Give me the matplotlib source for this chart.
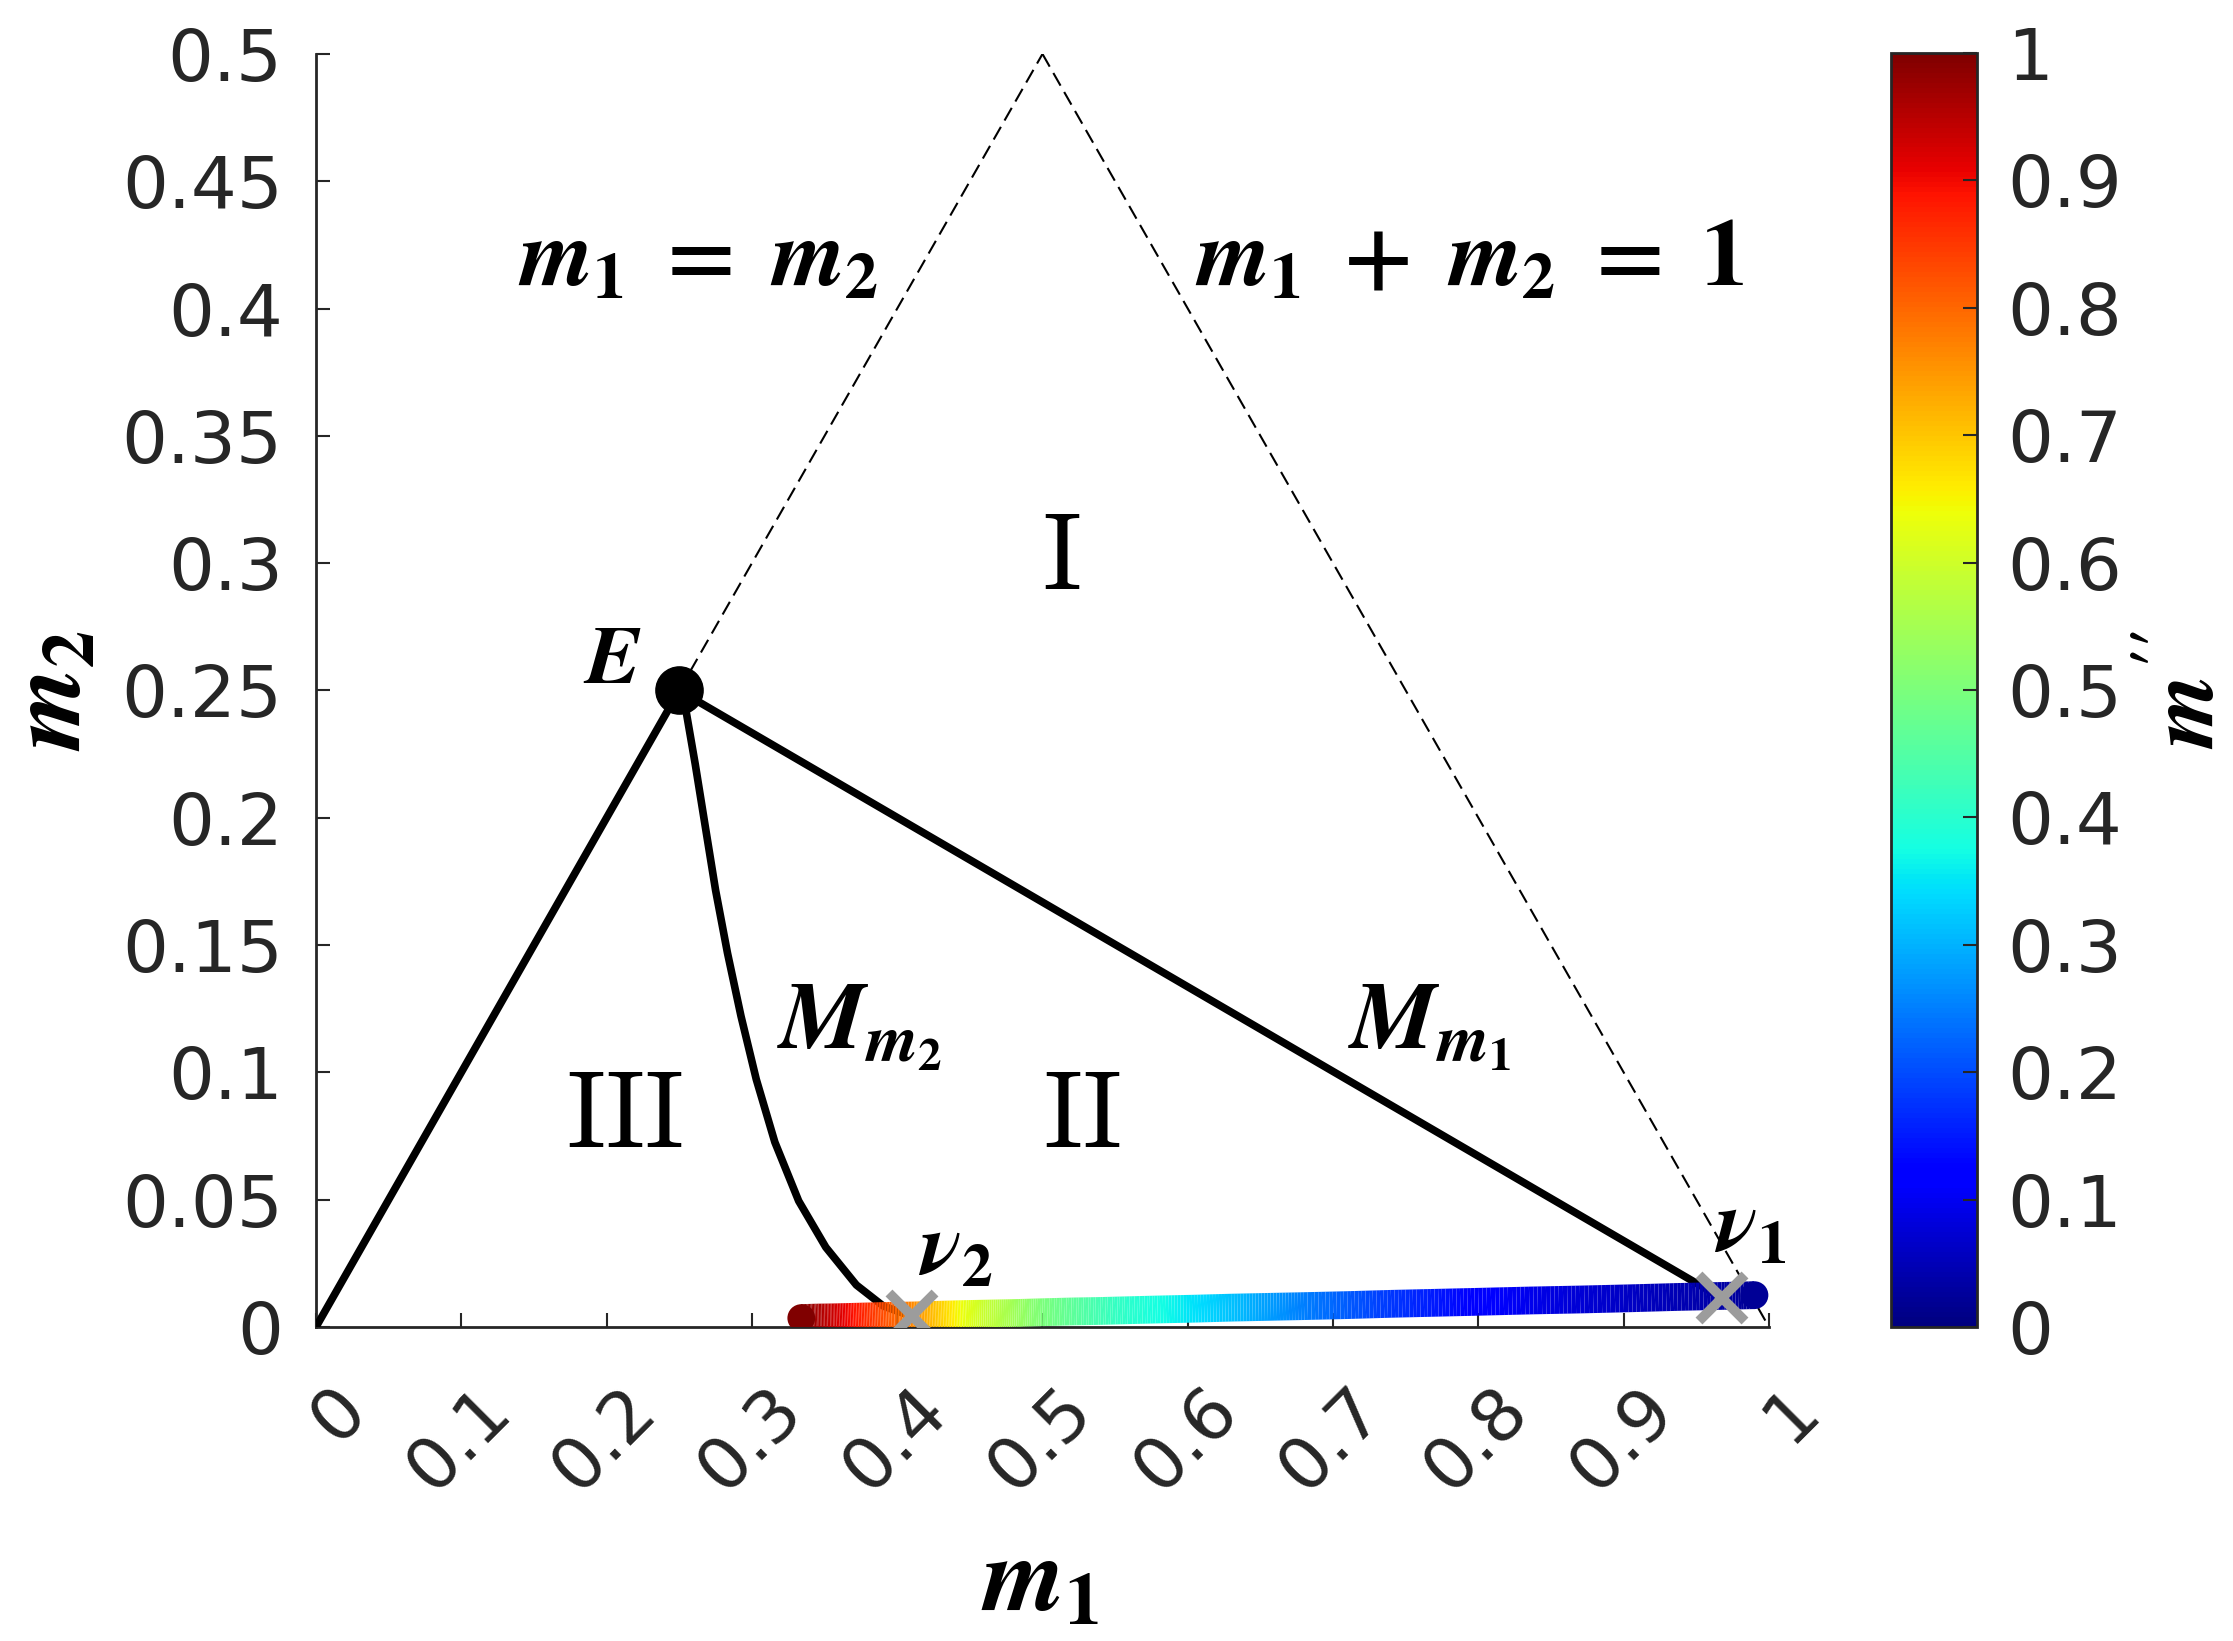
import numpy as np
import matplotlib
matplotlib.use("Agg")
import matplotlib.pyplot as plt
from matplotlib.collections import LineCollection
from matplotlib import cm, colors
from matplotlib.transforms import ScaledTranslation

# ---------------- data ----------------
E_pt = (0.25, 0.25)
nu1 = (0.9675, 0.0114)
nu2 = (0.410, 0.0042)
apex = (0.5, 0.5)
origin = (0.0, 0.0)
corner = (1.0, 0.0)

# curve M_m2 (from E down to nu2)
mm2_m1 = [0.250, 0.2540, 0.2610, 0.2680, 0.2750, 0.2832, 0.2925, 0.3030, 0.3158, 0.3322,
          0.3509, 0.3719, 0.3905, 0.410]
mm2_m2 = [0.250, 0.2442, 0.2211, 0.1963, 0.1716, 0.1469, 0.1221, 0.0973, 0.0726, 0.0495,
          0.0313, 0.0165, 0.0082, 0.0042]

# coloured branch along the bottom (m'' colour-coded)
br_m1 = [0.334, 0.345, 0.357, 0.370, 0.383, 0.396, 0.409, 0.422, 0.435, 0.448, 0.465, 0.482,
         0.500, 0.520, 0.540, 0.560, 0.581, 0.605, 0.630, 0.655, 0.680, 0.710, 0.740, 0.770,
         0.800, 0.835, 0.870, 0.906, 0.937, 0.9675, 0.990]
br_m2 = [0.0035, 0.0037, 0.0038, 0.0040, 0.0042, 0.0044, 0.0045, 0.0047, 0.0049, 0.0051, 0.0053, 0.0055,
         0.0058, 0.0061, 0.0063, 0.0066, 0.0069, 0.0072, 0.0076, 0.0079, 0.0082, 0.0086, 0.0091, 0.0095,
         0.0099, 0.0104, 0.0108, 0.0113, 0.0118, 0.0122, 0.0125]
br_mpp = [1.000, 0.965, 0.930, 0.890, 0.850, 0.810, 0.770, 0.720, 0.670, 0.625, 0.580, 0.540,
          0.500, 0.465, 0.430, 0.400, 0.375, 0.345, 0.315, 0.280, 0.250, 0.215, 0.180, 0.150,
          0.120, 0.095, 0.075, 0.060, 0.047, 0.035, 0.020]

xticks = [0, 0.1, 0.2, 0.3, 0.4, 0.5, 0.6, 0.7, 0.8, 0.9, 1.0]
xticklabels = ['0', '0.1', '0.2', '0.3', '0.4', '0.5', '0.6', '0.7', '0.8', '0.9', '1']
yticks = [0, 0.05, 0.1, 0.15, 0.2, 0.25, 0.3, 0.35, 0.4, 0.45, 0.5]
yticklabels = ['0', '0.05', '0.1', '0.15', '0.2', '0.25', '0.3', '0.35', '0.4', '0.45', '0.5']
cticks = [0, 0.1, 0.2, 0.3, 0.4, 0.5, 0.6, 0.7, 0.8, 0.9, 1.0]
cticklabels = ['0', '0.1', '0.2', '0.3', '0.4', '0.5', '0.6', '0.7', '0.8', '0.9', '1']

# ---------------- figure ----------------
plt.rcParams['font.family'] = ['DejaVu Sans']
plt.rcParams['mathtext.fontset'] = 'custom'
plt.rcParams['mathtext.it'] = 'STIXGeneral:italic:bold'
plt.rcParams['mathtext.rm'] = 'STIXGeneral:bold'
plt.rcParams['mathtext.bf'] = 'STIXGeneral:bold'
plt.rcParams['mathtext.sf'] = 'STIXGeneral:bold'
TICKFS = 52
AXC = '#262626'

fig = plt.figure(figsize=(22.33, 16.41), dpi=100)
ax = fig.add_axes([0.14151, 0.19135, 0.65069, 0.77575])
cax = fig.add_axes([0.84684, 0.19135, 0.0385, 0.7764])

ax.set_xlim(0, 1)
ax.set_ylim(0, 0.5)

# dashed boundaries
ax.plot([E_pt[0], apex[0]], [E_pt[1], apex[1]], color='black', lw=1.5, ls=(0, (7, 3.5)), zorder=2)
ax.plot([apex[0], corner[0]], [apex[1], corner[1]], color='black', lw=1.5, ls=(0, (7, 3.5)), zorder=2)

# solid black lines
LW = 5.5
ax.plot([origin[0], E_pt[0]], [origin[1], E_pt[1]], color='black', lw=LW, zorder=3, solid_capstyle='round')
ax.plot([E_pt[0], nu1[0]], [E_pt[1], nu1[1]], color='black', lw=LW, zorder=3, solid_capstyle='round')
ax.plot(mm2_m1, mm2_m2, color='black', lw=LW, zorder=3, solid_capstyle='round', solid_joinstyle='round')

# coloured branch: each segment between read points is shaded linearly (gouraud-like)
norm = colors.Normalize(0, 1)
x_arr, y_arr, v_arr = np.array(br_m1), np.array(br_m2), np.array(br_mpp)
t = np.linspace(0, 1, 13)
segs, vals = [], []
for i in range(len(x_arr) - 1):
    xs = x_arr[i] + t * (x_arr[i + 1] - x_arr[i])
    ys = y_arr[i] + t * (y_arr[i + 1] - y_arr[i])
    vs = v_arr[i] + t * (v_arr[i + 1] - v_arr[i])
    for j in range(len(t) - 1):
        segs.append([(xs[j], ys[j]), (xs[j + 1], ys[j + 1])])
        vals.append(0.5 * (vs[j] + vs[j + 1]))
BW = 20
lc = LineCollection(segs, cmap='jet', norm=norm, linewidths=BW, capstyle='butt', zorder=4)
lc.set_array(np.array(vals))
ax.add_collection(lc)
ax.scatter([br_m1[0], br_m1[-1]], [br_m2[0], br_m2[-1]], s=BW ** 2, c=[br_mpp[0], br_mpp[-1]],
           cmap='jet', norm=norm, marker='o', linewidths=0, zorder=4)

# markers
ax.plot([E_pt[0]], [E_pt[1]], 'o', color='black', ms=34, zorder=5)
ax.plot([nu1[0], nu2[0]], [nu1[1], nu2[1]], 'x', color='#9c9c9c', ms=33, mew=7, zorder=6)

# annotations
ax.text(0.204, 0.262, r'$E$', fontsize=60, ha='center', va='center')
ax.text(0.374, 0.118, r'$M_{m_2}$', fontsize=69, ha='center', va='center')
ax.text(0.766, 0.118, r'$M_{m_1}$', fontsize=69, ha='center', va='center')
ax.text(0.440, 0.030, r'$\nu_2$', fontsize=63, ha='center', va='center')
ax.text(0.987, 0.039, r'$\nu_1$', fontsize=63, ha='center', va='center')
ax.text(0.263, 0.419, r'$m_1\;=\;m_2$', fontsize=68, ha='center', va='center')
ax.text(0.794, 0.419, r'$m_1\;+\;m_2\;=\;1$', fontsize=68, ha='center', va='center')
ax.text(0.513, 0.302, r'$\mathrm{I}$', fontsize=78, ha='center', va='center', math_fontfamily='cm')
ax.text(0.527, 0.083, r'$\mathrm{II}$', fontsize=78, ha='center', va='center', math_fontfamily='cm')
ax.text(0.212, 0.083, r'$\mathrm{III}$', fontsize=78, ha='center', va='center', math_fontfamily='cm')

# axes styling
for s in ['top', 'right']:
    ax.spines[s].set_visible(False)
for s in ['left', 'bottom']:
    ax.spines[s].set_linewidth(2)
    ax.spines[s].set_color(AXC)
ax.set_xticks(xticks)
ax.set_yticks(yticks)
ax.set_yticklabels(yticklabels)
ax.set_xticklabels(xticklabels, rotation=45, ha='right', va='center', rotation_mode='anchor')
ax.tick_params(direction='in', length=10, width=1.5, colors=AXC, labelsize=TICKFS, labelcolor=AXC)
ax.tick_params(axis='y', pad=24)
ax.tick_params(axis='x', pad=52)
off = ScaledTranslation(28 / 72, 0, fig.dpi_scale_trans)
for lab in ax.get_xticklabels():
    lab.set_transform(lab.get_transform() + off)

ax.set_xlabel(r'$m_1$', fontsize=76, va='center', ha='center')
ax.xaxis.set_label_coords(0.498, -0.20)
ax.set_ylabel(r'$m_2$', fontsize=76, va='center', ha='center', rotation=90)
ax.yaxis.set_label_coords(-0.182, 0.5)

# colorbar
sm = cm.ScalarMappable(norm=norm, cmap='jet')
cb = fig.colorbar(sm, cax=cax)
cb.set_ticks(cticks)
cb.set_ticklabels(cticklabels)
cb.outline.set_linewidth(2)
cb.outline.set_edgecolor(AXC)
cax.tick_params(direction='in', length=10, width=1.5, colors=AXC, labelsize=TICKFS, labelcolor=AXC,
                pad=22, right=True, left=False)
cb.set_label(r"$m^{\prime\prime}$", fontsize=68, rotation=90, va='center', ha='center')
cax.yaxis.set_label_coords(3.45, 0.5)

fig.savefig('out.png', dpi=100)
